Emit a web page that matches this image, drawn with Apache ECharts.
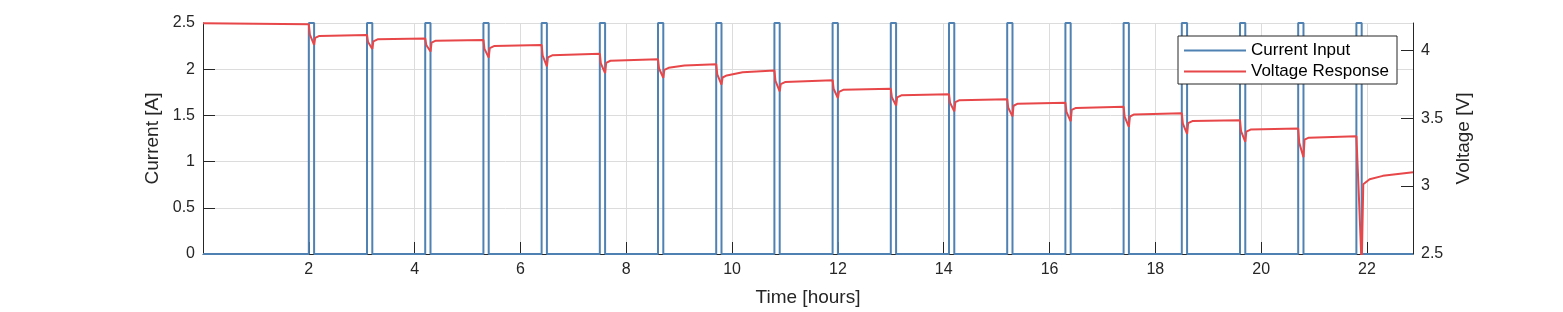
<!DOCTYPE html>
<html>
<head>
<meta charset="utf-8">
<script src="https://cdn.jsdelivr.net/npm/echarts@6/dist/echarts.min.js"></script>
<style>
html,body{margin:0;padding:0;background:#fff;}
#chart{width:1563px;height:312px;}
</style>
</head>
<body>
<div id="chart"></div>
<script>
// ---- data ----
const timeMax = 22.87;
const xTickValues = [2, 4, 6, 8, 10, 12, 14, 16, 18, 20, 22];
const voltageTickValues = [2.5, 3, 3.5, 4];
const pulseStarts = [2.0, 3.1, 4.2, 5.3, 6.4, 7.5, 8.6, 9.7, 10.8, 11.9, 13.0, 14.1, 15.2, 16.3, 17.4, 18.5, 19.6, 20.7, 21.8];
const pulseEnds   = [2.1, 3.2, 4.3, 5.4, 6.5, 7.6, 8.7, 9.8, 10.9, 12.0, 13.1, 14.2, 15.3, 16.4, 17.5, 18.6, 19.7, 20.8, 21.9];
const pulseCurrent = 2.5;
const restCurrent = 0;
// voltage response [time (h), voltage (V)]
const voltagePoints = [
  [0.00,4.198],[2.00,4.190],
  [2.02,4.115],[2.10,4.039],[2.12,4.090],[2.20,4.105],[3.10,4.112],
  [3.12,4.060],[3.20,4.009],[3.22,4.065],[3.30,4.080],[4.20,4.086],
  [4.22,4.038],[4.30,3.990],[4.32,4.055],[4.40,4.070],[5.30,4.075],
  [5.32,4.010],[5.40,3.946],[5.42,4.015],[5.50,4.030],[6.40,4.039],
  [6.42,3.960],[6.50,3.880],[6.52,3.947],[6.60,3.962],[7.50,3.973],
  [7.52,3.902],[7.60,3.831],[7.62,3.907],[7.70,3.922],[8.60,3.933],
  [8.62,3.865],[8.70,3.797],[8.72,3.855],[8.80,3.870],[9.10,3.888],[9.70,3.897],
  [9.72,3.822],[9.80,3.746],[9.82,3.799],[9.90,3.814],[10.20,3.838],[10.80,3.850],
  [10.82,3.774],[10.90,3.697],[10.92,3.750],[11.00,3.765],[11.90,3.779],
  [11.92,3.714],[12.00,3.648],[12.02,3.693],[12.10,3.708],[13.00,3.716],
  [13.02,3.654],[13.10,3.592],[13.12,3.653],[13.20,3.668],[14.10,3.676],
  [14.12,3.613],[14.20,3.550],[14.22,3.617],[14.30,3.632],[15.20,3.639],
  [15.22,3.576],[15.30,3.513],[15.32,3.591],[15.40,3.606],[16.30,3.614],
  [16.32,3.546],[16.40,3.477],[16.42,3.560],[16.50,3.575],[17.40,3.584],
  [17.42,3.510],[17.50,3.436],[17.52,3.512],[17.60,3.527],[18.50,3.535],
  [18.52,3.460],[18.60,3.384],[18.62,3.463],[18.70,3.478],[19.60,3.484],
  [19.62,3.405],[19.70,3.326],[19.72,3.401],[19.80,3.416],[20.70,3.423],
  [20.72,3.318],[20.80,3.213],[20.82,3.341],[20.90,3.356],[21.80,3.367],
  [21.85,2.900],[21.90,2.400],[21.93,3.013],[22.05,3.050],[22.30,3.075],[22.87,3.101]
];

// build current step series from pulse times
const currentPoints = [[0, restCurrent]];
for (let i = 0; i < pulseStarts.length; i++) {
  currentPoints.push([pulseStarts[i], restCurrent]);
  currentPoints.push([pulseStarts[i], pulseCurrent]);
  currentPoints.push([pulseEnds[i], pulseCurrent]);
  currentPoints.push([pulseEnds[i], restCurrent]);
}
currentPoints.push([timeMax, restCurrent]);

const FONT = 'Liberation Sans, Arial, Helvetica, sans-serif';
const TXT = '#262626';
const GRID = '#dcdcdc';
const BLUE = '#4f82b3';
const RED = '#e8474a';

const chart = echarts.init(document.getElementById('chart'), null, {renderer: 'canvas'});
chart.setOption({
  animation: false,
  backgroundColor: '#fff',
  textStyle: {fontFamily: FONT},
  grid: {left: 203, right: 150, top: 23, bottom: 57, containLabel: false},
  legend: {
    orient: 'vertical',
    right: 166, top: 36,
    padding: [6, 8, 4, 6],
    itemGap: 4,
    itemWidth: 62, itemHeight: 2,
    icon: 'rect',
    backgroundColor: '#fff',
    borderColor: '#262626', borderWidth: 1, borderRadius: 0,
    textStyle: {fontFamily: FONT, fontSize: 17, color: '#000', lineHeight: 17},
    data: [
      {name: 'Current Input', icon: 'rect', itemStyle: {color: BLUE}},
      {name: 'Voltage Response', icon: 'rect', itemStyle: {color: RED}}
    ]
  },
  xAxis: {
    type: 'value', min: 0, max: timeMax, interval: 2,
    name: 'Time [hours]', nameLocation: 'middle', nameGap: 34,
    nameTextStyle: {fontFamily: FONT, fontSize: 19, color: TXT},
    axisLine: {show: true, lineStyle: {color: TXT, width: 1}},
    axisTick: {show: true, inside: true, length: 12, lineStyle: {color: TXT}, customValues: xTickValues},
    axisLabel: {fontFamily: FONT, fontSize: 16, color: TXT, margin: 8, customValues: xTickValues},
    splitLine: {show: true, lineStyle: {color: GRID, width: 1}}
  },
  yAxis: [
    {
      type: 'value', min: 0, max: 2.5, interval: 0.5, position: 'left',
      name: 'Current [A]', nameLocation: 'middle', nameGap: 39, nameRotate: 90,
      nameTextStyle: {fontFamily: FONT, fontSize: 19, color: TXT},
      axisLine: {show: true, lineStyle: {color: TXT, width: 1}},
      axisTick: {show: true, inside: true, length: 12, lineStyle: {color: TXT}},
      axisLabel: {fontFamily: FONT, fontSize: 16, color: TXT, margin: 8},
      splitLine: {show: true, lineStyle: {color: GRID, width: 1}}
    },
    {
      type: 'value', min: 2.5, max: 4.2, interval: 0.5, position: 'right',
      name: 'Voltage [V]', nameLocation: 'middle', nameGap: 40, nameRotate: 90,
      nameTextStyle: {fontFamily: FONT, fontSize: 19, color: TXT},
      axisLine: {show: true, lineStyle: {color: TXT, width: 1}},
      axisTick: {show: true, inside: true, length: 12, lineStyle: {color: TXT}, customValues: voltageTickValues},
      axisLabel: {fontFamily: FONT, fontSize: 16, color: TXT, margin: 8, customValues: voltageTickValues},
      splitLine: {show: false}
    }
  ],
  series: [
    {
      name: 'Current Input', type: 'line', yAxisIndex: 0,
      data: currentPoints, symbol: 'none', showSymbol: false, clip: true,
      lineStyle: {color: BLUE, width: 2},
      itemStyle: {color: BLUE},
      z: 3
    },
    {
      name: 'Voltage Response', type: 'line', yAxisIndex: 1,
      data: voltagePoints, symbol: 'none', showSymbol: false, clip: true,
      lineStyle: {color: RED, width: 2},
      itemStyle: {color: RED},
      z: 4
    }
  ]
});
</script>
</body>
</html>
